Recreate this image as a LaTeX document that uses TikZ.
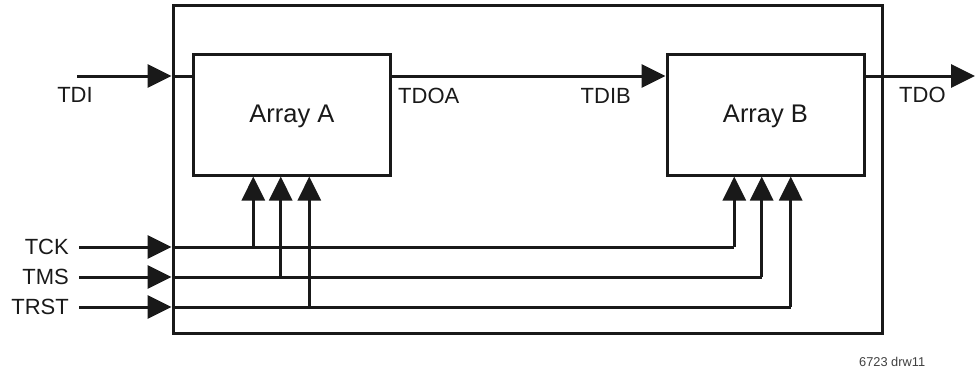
\documentclass[tikz,border=0pt]{standalone}
\usepackage{fontspec}
\setmainfont{Liberation Sans}
\usetikzlibrary{arrows.meta}
\begin{document}
\begin{tikzpicture}[x=1pt,y=-1pt,
  sig/.style={line width=3pt,black!90},
  arr/.style={sig,-{Triangle[length=24pt,width=23pt]}},
  box/.style={draw=black!90,line width=3pt,minimum width=#1,minimum height=120.5pt,inner sep=0pt},
  lbl/.style={font=\fontsize{22}{24}\selectfont,inner sep=0pt,text=black!90},
  big/.style={font=\fontsize{25.5}{28}\selectfont,text=black!90}]
\useasboundingbox (0,0) rectangle (975,370);
% outer chip
\node[draw=black!90,line width=3pt,minimum width=709pt,minimum height=327.5pt,inner sep=0pt] (chip) at (527.5,169.25) {};
% arrays
\node[box=197.7pt] (A) at (291.85,114.75) {};
\node[box=197pt] (B) at (765.5,114.75) {};
\node[big] (Atxt) at ([yshift=-2pt]A.center) {Array A};
\node[big] (Btxt) at ([yshift=-2pt]B.center) {Array B};
% row coordinates
\coordinate (tdiin) at (77,76);
\coordinate (tdoout) at (975,76);
\coordinate (tckin) at (79,247);
\coordinate (tmsin) at (79,277);
\coordinate (trstin) at (79,307);
\coordinate (a1) at (253.3,0);
\coordinate (a2) at (280.7,0);
\coordinate (a3) at (309.3,0);
\coordinate (b1) at (734.3,0);
\coordinate (b2) at (761.7,0);
\coordinate (b3) at (790.7,0);
% labels
\node[lbl] (tdi) at (75,95) {TDI};
\node[lbl,anchor=west] (tdoa) at (398,96) {TDOA};
\node[lbl,anchor=east] (tdib) at (631,96) {TDIB};
\node[lbl,anchor=west] (tdo) at (899,95) {TDO};
\node[lbl,anchor=east] (tck) at (69,247) {TCK};
\node[lbl,anchor=east] (tms) at (69,277) {TMS};
\node[lbl,anchor=east] (trst) at (69,307) {TRST};
\node[font=\fontsize{12.8}{14}\selectfont,text=black!75,anchor=west,inner sep=0pt] (drw) at (859,362) {6723 drw11};
% TDI path
\draw[arr] (tdiin) -- (chip.west |- tdiin);
\draw[sig] (chip.west |- tdiin) -- (A.west |- tdiin);
\draw[arr] (A.east |- tdiin) -- (B.west |- tdiin);
\draw[arr] (B.east |- tdiin) -- (tdoout);
% control inputs
\foreach \s in {tckin,tmsin,trstin}{
  \draw[arr] (\s) -- (chip.west |- \s);
}
\draw[sig] (chip.west |- tckin) -- (b1 |- tckin) coordinate (tckend);
\draw[arr] (tckend) -- (b1 |- B.south);
\draw[sig] (chip.west |- tmsin) -- (b2 |- tmsin) coordinate (tmsend);
\draw[arr] (tmsend) -- (b2 |- B.south);
\draw[sig] (chip.west |- trstin) -- (b3 |- trstin) coordinate (trstend);
\draw[arr] (trstend) -- (b3 |- B.south);
% taps into Array A
\draw[arr] (a1 |- tckin) -- (a1 |- A.south);
\draw[arr] (a2 |- tmsin) -- (a2 |- A.south);
\draw[arr] (a3 |- trstin) -- (a3 |- A.south);
\end{tikzpicture}
\end{document}
